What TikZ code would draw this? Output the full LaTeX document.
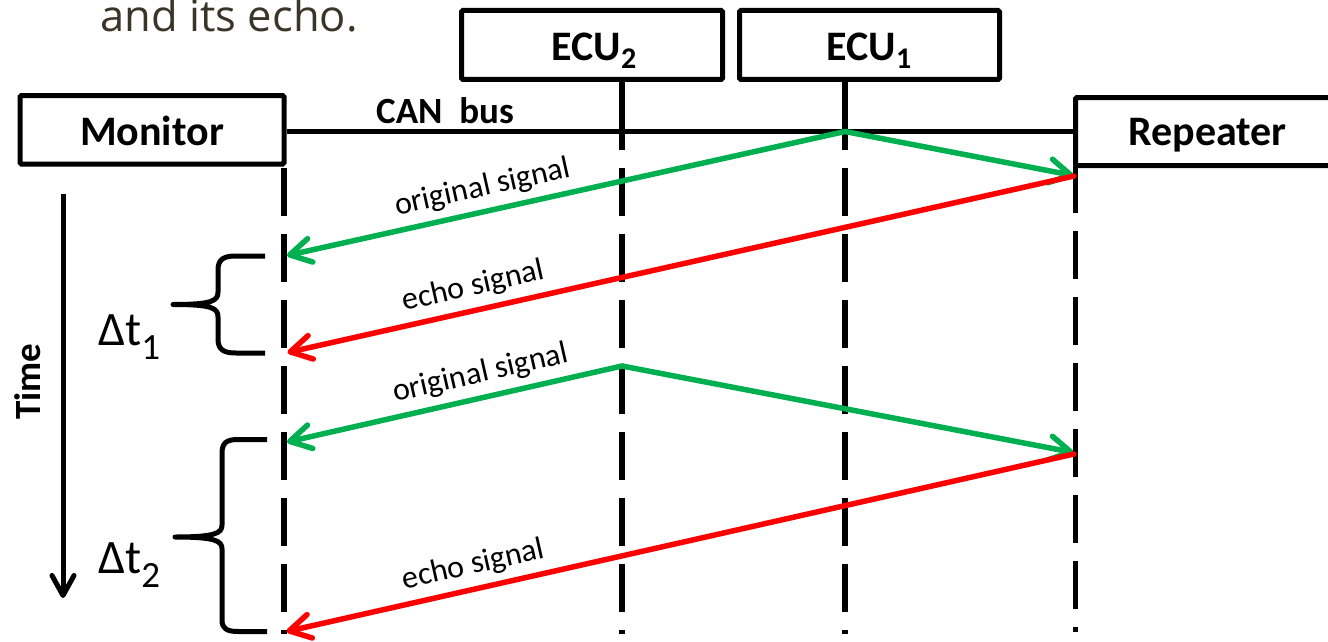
\documentclass[tikz,border=0pt]{standalone}
\usepackage{fontspec}
\setmainfont{Carlito}
\newfontfamily\titlefont{Open Sans}
\usetikzlibrary{arrows.meta}
\definecolor{sgreen}{HTML}{00B050}
\definecolor{sred}{HTML}{FF0000}
\definecolor{ttl}{HTML}{3B3529}
\newcommand\lowsub[1]{\raisebox{-8pt}{\fontsize{30}{30}\selectfont #1}}
\newcommand\dsub[1]{\raisebox{-14pt}{\fontsize{37}{37}\selectfont #1}}
\begin{document}
\begin{tikzpicture}[x=1pt,y=-1pt,
  box/.style={draw, line width=5pt, rounded corners=1.5pt, inner sep=0pt},
  lbl/.style={font=\bfseries\fontsize{42}{50}\selectfont, inner sep=0pt, anchor=base},
  canlbl/.style={font=\bfseries\fontsize{37}{44}\selectfont, inner sep=0pt, anchor=base west},
  sig/.style={line width=5.5pt, line cap=round,
    -{Straight Barb[length=21pt,width=24pt,line cap=round,line join=round]}},
  life/.style={line width=5.5pt, dash pattern=on 47.5pt off 18.5pt},
  solidlife/.style={line width=5.5pt},
  bus/.style={line width=5pt},
  sl/.style={font=\fontsize{32}{38}\selectfont, sloped, above, inner sep=7pt},
  brace/.style={line width=5pt, line join=round},
  timearrow/.style={line width=5pt,
    -{Straight Barb[length=20pt,width=22pt,line cap=round,line join=round]}},
]
\useasboundingbox (0,0) rectangle (1328,642);

% title fragment
\node[anchor=base west, inner sep=0pt, font=\titlefont\fontsize{43.5}{50}\selectfont, text=ttl] (title) at (100.5,32) {and its echo.};

% boxes
\node[box, minimum width=264pt, minimum height=68.5pt] (mon) at (152,129.75) {};
\node[box, minimum width=261pt, minimum height=69pt] (ecu2) at (592,45) {};
\node[box, minimum width=260pt, minimum height=69pt] (ecu1) at (869.5,45) {};
\node[box, minimum width=265pt, minimum height=68pt] (rep) at (1208,131.5) {};

\node[lbl] (montxt) at (152,145.5) {Monitor};
\node[lbl] (ecu2txt) at (594,61) {ECU\lowsub{2}};
\node[lbl] (ecu1txt) at (869,61) {ECU\lowsub{1}};
\node[lbl] (reptxt) at (1207.5,145) {Repeater};
\node[canlbl] (can) at (376,123) {CAN\ \ bus};

% coordinates
\coordinate (busy) at (0,131.5);
\coordinate (monT) at (284,168);
\coordinate (monB) at (284,633.5);
\coordinate (e2bus) at (622,150);
\coordinate (e2d) at (622,168);
\coordinate (e2B) at (622,633.5);
\coordinate (e1bus) at (845,150);
\coordinate (e1d) at (845,168);
\coordinate (e1B) at (845,633.5);
\coordinate (repT) at (1075.5,166);
\coordinate (repB) at (1075.5,632);

% bus and lifelines
\draw[bus] (mon.east |- busy) -- (rep.west |- busy);
\draw[solidlife] (ecu2.south -| e2B) -- (e2bus);
\draw[life] (e2d) -- (e2B);
\draw[solidlife] (ecu1.south -| e1B) -- (e1bus);
\draw[life] (e1d) -- (e1B);
\draw[life] (monT) -- (monB);
\draw[life, dash phase=1pt] (repT) -- (repB);

% signal points
\coordinate (p1) at (845,131.5);
\coordinate (p2) at (622,366);
\coordinate (m1) at (287,255.5);
\coordinate (m2) at (287.5,352.5);
\coordinate (m3) at (287,442);
\coordinate (m4) at (286.5,631.5);
\coordinate (r1) at (1074,176);
\coordinate (r2) at (1074,454);
\coordinate (r1g) at (1073.5,175.5);
\coordinate (r2g) at (1073.5,452.5);

% green signals
\draw[sig, sgreen] (p1) -- node[sl, pos=0.64, text=black] (lab1) {original signal} (m1);
\draw[sig, sgreen] (p1) -- (r1g);
\draw[sig, sgreen] (p2) -- node[sl, pos=0.406, text=black] (lab3) {original signal} (m3);
\draw[sig, sgreen] (p2) -- (r2g);
% red echoes
\draw[sig, sred] (r1) -- node[sl, pos=0.757, text=black] (lab2) {echo signal} (m2);
\draw[sig, sred] (r2) -- node[sl, pos=0.756, text=black] (lab4) {echo signal} (m4);

% time arrow
\coordinate (tA) at (63,194);
\coordinate (tB) at (63,598);
\draw[timearrow] (tA) -- (tB);
\node[rotate=90, anchor=base, inner sep=0pt, font=\bfseries\fontsize{37}{44}\selectfont] (time) at (40,381.5) {Time};

% braces
\draw[brace] (265,256) -- (236,256) .. controls (224,256) and (218,259) .. (218,270)
  -- (218,292) .. controls (218,301) and (212,304.5) .. (173,304.5)
  .. controls (212,304.5) and (218,308) .. (218,317)
  -- (218,339) .. controls (218,350) and (224,353) .. (236,353) -- (265,353);
\draw[brace] (267,439.5) -- (238,439.5) .. controls (226,439.5) and (222,443) .. (222,454)
  -- (222,525) .. controls (222,533) and (216,537) .. (175,537)
  .. controls (216,537) and (222,541) .. (222,549)
  -- (222,620) .. controls (222,628) and (226,631.5) .. (238,631.5) -- (267,631.5);

% delta labels
\node[anchor=base west, inner sep=0pt, font=\fontsize{48}{54}\selectfont] (dt1) at (98,345) {Δt\dsub{1}};
\node[anchor=base west, inner sep=0pt, font=\fontsize{48}{54}\selectfont] (dt2) at (98,573) {Δt\dsub{2}};
\end{tikzpicture}
\end{document}
